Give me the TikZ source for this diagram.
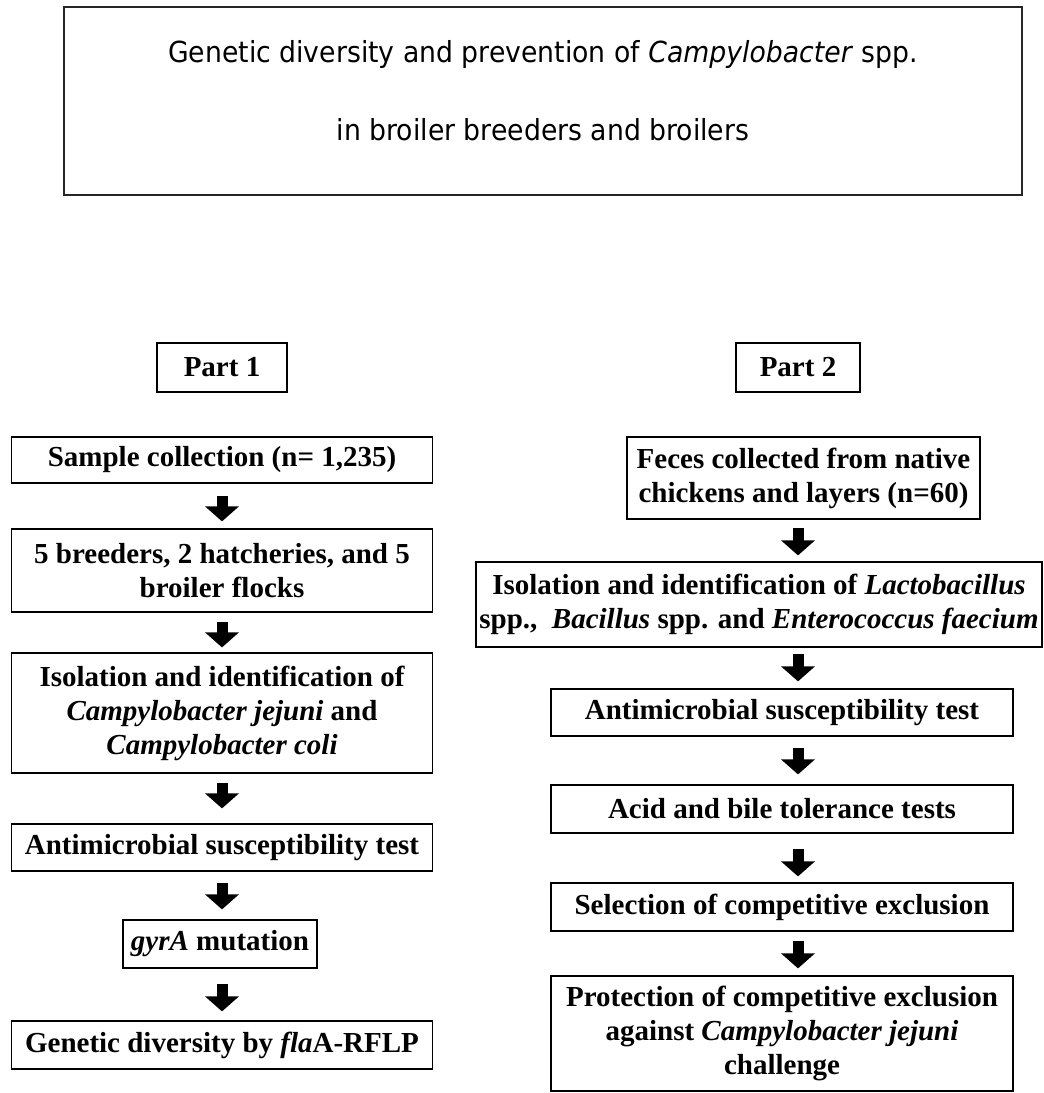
\documentclass[tikz,border=0pt]{standalone}
\usepackage{fontspec}
\setmainfont{Liberation Serif}
\newfontfamily\titlefont[FakeStretch=0.92]{DejaVu Sans}
\usetikzlibrary{arrows.meta}

\tikzset{
  stepbox/.style={draw=black, line width=1.2pt, inner sep=0pt, align=center,
    font=\bfseries\fontsize{29}{34}\selectfont},
  partbox/.style={stepbox, minimum height=49pt},
  blockarrow/.style={line width=11pt, -{Triangle[width=33pt,length=15pt]}}
}

\begin{document}
\begin{tikzpicture}[x=1pt, y=-1pt]
        \useasboundingbox (0,0) rectangle (1044,1093);

        \node[draw=black!85, line width=1.5pt, inner sep=0pt, minimum width=958pt, minimum height=188pt] (title) at (543,101)
              {\parbox[c][188pt][t]{940pt}{\centering\titlefont\fontsize{29}{78}\selectfont\vspace*{33pt}%
               Genetic diversity and prevention of \textit{Campylobacter} spp.\\
               in broiler breeders and broilers}};

        \node[partbox, minimum width=130pt] (p1) at (222,367.5) {Part 1};
        \node[partbox, minimum width=124pt] (p2) at (798,367.5) {Part 2};

        %part 1
        \node[stepbox, minimum width=421pt, minimum height=46pt] (a1) at (222,460)  {Sample collection (n= 1,235)};
        \node[stepbox, minimum width=421pt, minimum height=83pt] (a2) at (222,570.5) {5 breeders, 2 hatcheries, and 5\\ broiler flocks};
        \node[stepbox, minimum width=421pt, minimum height=120pt] (a3) at (222,713) {Isolation and identification of\\ \textit{Campylobacter jejuni} and\\ \textit{Campylobacter coli}};
        \node[stepbox, minimum width=421pt, minimum height=47pt] (a4) at (222,847.5) {Antimicrobial susceptibility test};
        \node[stepbox, minimum width=194pt, minimum height=48pt] (a5) at (220,944)  {\textit{gyrA} mutation};
        \node[stepbox, minimum width=421pt, minimum height=48pt] (a6) at (222,1045) {Genetic diversity by \textit{fla}A-RFLP};

        %part 2
        \node[stepbox, minimum width=353pt, minimum height=82pt] (b1) at (803.5,478) {Feces collected from native\\ chickens and layers (n=60)};
        \node[stepbox, minimum width=566pt, minimum height=85pt] (b2) at (759,604.5) {Isolation and identification of \textit{Lactobacillus}\\ spp.,~ \textit{Bacillus} spp. and \textit{Enterococcus faecium}};
        \node[stepbox, minimum width=462pt, minimum height=47pt] (b3) at (782,712.5) {Antimicrobial susceptibility test};
        \node[stepbox, minimum width=462pt, minimum height=48pt] (b4) at (782,809)  {Acid and bile tolerance tests};
        \node[stepbox, minimum width=462pt, minimum height=48pt] (b5) at (782,907)  {Selection of competitive exclusion};
        \node[stepbox, minimum width=462pt, minimum height=115pt] (b6) at (782,1033.5) {Protection of competitive exclusion\\ against \textit{Campylobacter jejuni}\\ challenge};

        %arrows of part 1
        \draw[blockarrow, shorten <=12pt, shorten >=7pt]  (a1.south -| p1) -- (a2.north -| p1);
        \draw[blockarrow, shorten <=9pt, shorten >=5pt]   (a2.south -| p1) -- (a3.north -| p1);
        \draw[blockarrow, shorten <=9pt, shorten >=15pt]  (a3.south -| p1) -- (a4.north -| p1);
        \draw[blockarrow, shorten <=11pt, shorten >=10pt] (a4.south -| p1) -- (a5.north -| p1);
        \draw[blockarrow, shorten <=15pt, shorten >=9pt]  (a5.south -| p1) -- (a6.north -| p1);

        %arrows of part 2
        \draw[blockarrow, shorten <=8pt, shorten >=6pt]   (b1.south -| p2) -- (b2.north -| p2);
        \draw[blockarrow, shorten <=6pt, shorten >=7pt]   (b2.south -| p2) -- (b3.north -| p2);
        \draw[blockarrow, shorten <=11pt, shorten >=10pt] (b3.south -| p2) -- (b4.north -| p2);
        \draw[blockarrow, shorten <=15pt, shorten >=6pt]  (b4.south -| p2) -- (b5.north -| p2);
        \draw[blockarrow, shorten <=9pt, shorten >=7pt]   (b5.south -| p2) -- (b6.north -| p2);
\end{tikzpicture}
\end{document}
